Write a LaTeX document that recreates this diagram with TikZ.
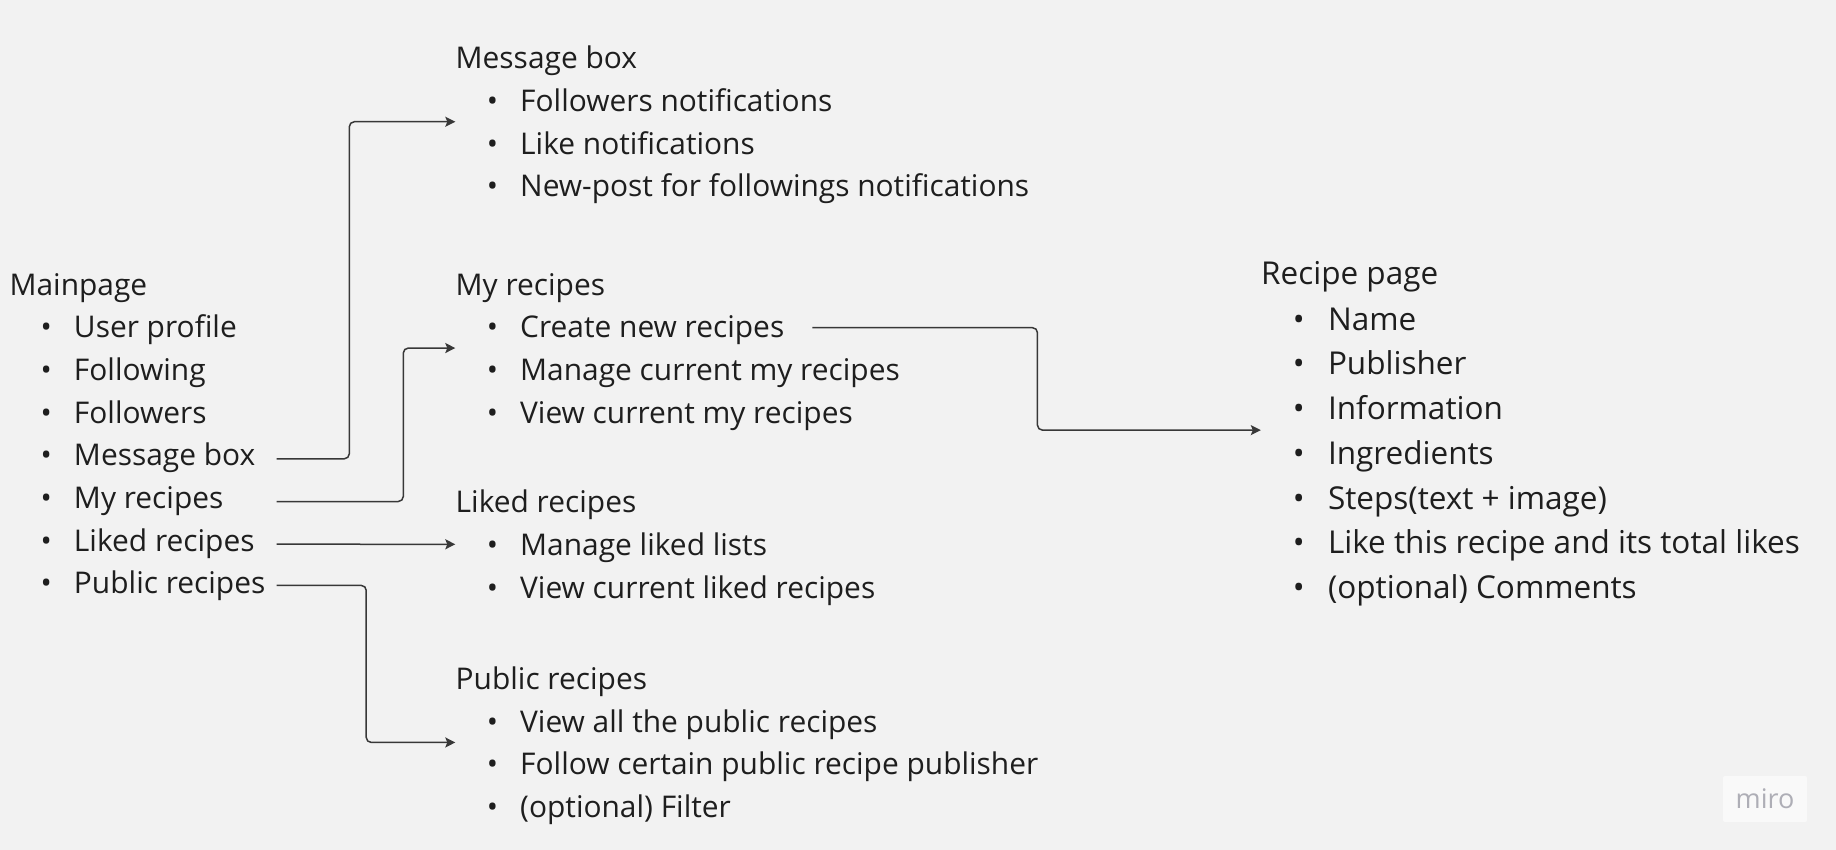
\documentclass[tikz,border=0pt]{standalone}
\usepackage{fontspec}
\setmainfont{Open Sans}
\usetikzlibrary{arrows.meta,fit}
\definecolor{bg}{HTML}{F2F2F2}
\definecolor{ink}{HTML}{1E1E1E}
\definecolor{wire}{HTML}{383838}
\definecolor{logotext}{HTML}{AEAEB6}
\newcommand{\bul}{\llap{\textbullet\hspace{0.74em}}}
\begin{document}
\begin{tikzpicture}[x=1pt, y=-1pt,
    txt/.style={anchor=base west, inner sep=0pt, text=ink,
      font=\fontsize{29.9}{36}\selectfont, text depth=10pt},
    head/.style={txt, text height=32pt},
    entry/.style={txt, text height=24pt},
    bighead/.style={head, font=\fontsize{31.5}{38}\selectfont,
      text height=33.6pt, text depth=10.5pt},
    bigentry/.style={entry, font=\fontsize{31.5}{38}\selectfont,
      text height=25.2pt, text depth=10.5pt},
    block/.style={inner sep=0pt},
    link/.style={draw=wire, line width=1.5pt, rounded corners=5pt,
      -{Stealth[length=10pt,width=10pt,inset=2pt]}}]
        \useasboundingbox (0,0) rectangle (1836,850);
        \fill[bg] (0,0) rectangle (1836,850);
        % mainpage
        \node[head] (mp-title) at (9.4,295) {Mainpage};
        \node[entry] (mp-1) at (73.8,337.7) {\bul User profile};
        \node[entry] (mp-2) at (73.8,380.4) {\bul Following};
        \node[entry] (mp-3) at (73.8,423.1) {\bul Followers};
        \node[entry] (mp-4) at (73.8,465.8) {\bul Message box};
        \node[entry] (mp-5) at (73.8,508.5) {\bul My recipes};
        \node[entry] (mp-6) at (73.8,551.2) {\bul Liked recipes};
        \node[entry] (mp-7) at (73.8,593.9) {\bul Public recipes};
        \node[fit=(mp-title)(mp-7), inner ysep=0pt, inner xsep=11pt] (mainpage) {};
        % message box
        \node[head] (mb-title) at (455.5,68.7) {Message box};
        \node[entry] (mb-1) at (520,111.4) {\bul Followers notifications};
        \node[entry] (mb-2) at (520,154.1) {\bul Like notifications};
        \node[entry] (mb-3) at (520,196.8) {\bul New-post for followings notifications};
        \node[block, fit=(mb-title)(mb-3)] (msgbox) {};
        % my recipes
        \node[head] (mr-title) at (455.5,295) {My recipes};
        \node[entry] (mr-1) at (520,337.7) {\bul Create new recipes};
        \node[entry] (mr-2) at (520,380.4) {\bul Manage current my recipes};
        \node[entry] (mr-3) at (520,423.1) {\bul View current my recipes};
        \node[block, fit=(mr-title)(mr-3)] (myrecipes) {};
        % liked recipes
        \node[head] (lr-title) at (455.5,512.6) {Liked recipes};
        \node[entry] (lr-1) at (520,555.3) {\bul Manage liked lists};
        \node[entry] (lr-2) at (520,598) {\bul View current liked recipes};
        \node[block, fit=(lr-title)(lr-2)] (liked) {};
        % public recipes
        \node[head] (pr-title) at (455.5,689.4) {Public recipes};
        \node[entry] (pr-1) at (520,732.1) {\bul View all the public recipes};
        \node[entry] (pr-2) at (520,774.8) {\bul Follow certain public recipe publisher};
        \node[entry] (pr-3) at (520,817.5) {\bul (optional) Filter};
        \node[block, fit=(pr-title)(pr-3)] (public) {};
        % recipe page
        \node[bighead] (rp-title) at (1261,285) {Recipe page};
        \node[bigentry] (rp-1) at (1327.8,330) {\bul Name};
        \node[bigentry] (rp-2) at (1327.8,374.7) {\bul Publisher};
        \node[bigentry] (rp-3) at (1327.8,419.5) {\bul Information};
        \node[bigentry] (rp-4) at (1327.8,464.2) {\bul Ingredients};
        \node[bigentry] (rp-5) at (1327.8,509) {\bul Steps(text + image)};
        \node[bigentry] (rp-6) at (1327.8,553.7) {\bul Like this recipe and its total likes};
        \node[bigentry] (rp-7) at (1327.8,598.4) {\bul (optional) Comments};
        \node[block, fit=(rp-title)(rp-7)] (recipe) {};
        % connectors
        \draw[link] (mp-4 -| mainpage.east) -- (349.3,0 |- mp-4) |- (msgbox.west);
        \draw[link] (mp-5 -| mainpage.east) -- (403.3,0 |- mp-5) |- (myrecipes.west);
        \draw[link] (mp-6 -| mainpage.east) -- (liked.west);
        \draw[link] ([yshift=1.5pt]mp-7 -| mainpage.east) -- ++(89.5,0) |- (public.west);
        \draw[link] ([xshift=28pt,yshift=3pt]mr-1.east) -- ++(225,0) |- (recipe.west);
        % watermark
        \node[fill=white!55!bg, rounded corners=2pt, minimum width=84pt,
          minimum height=46pt, inner sep=0pt, text=logotext,
          font=\fontsize{27}{32}\selectfont] (miro) at (1765,799) {miro};
      \end{tikzpicture}
\end{document}
